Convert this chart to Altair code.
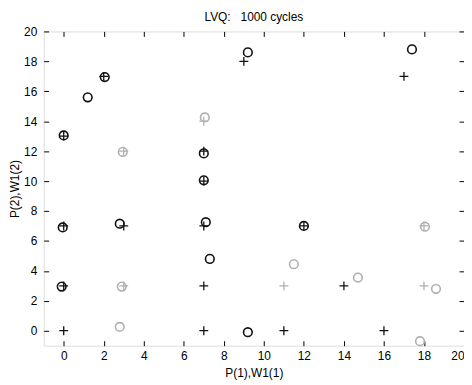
import altair as alt
import pandas as pd

# Training points P (plus markers)
p_x = [0, 7, 11, 16, 0, 7, 14, 0, 3, 7, 12, 0, 7, 7, 2, 9, 17]
p_y = [0, 0, 0, 0, 3, 3, 3, 7, 7, 7, 7, 13, 10, 12, 17, 18, 17]
# faintly printed P points
pf_x = [3, 11, 18, 18, 3, 7]
pf_y = [3, 3, 3, 7, 12, 14]

# Weight vectors W1 (circle markers)
w_x = [-0.1, -0.05, 0.0, 1.2, 2.05, 2.8, 7.1, 7.3, 7.0, 7.0, 9.2, 17.4, 12.0, 9.2]
w_y = [2.95, 6.9, 13.05, 15.6, 16.95, 7.15, 7.25, 4.8, 10.05, 11.85, 18.6, 18.8, 7.0, -0.1]
# faintly printed W1 points
wf_x = [2.9, 2.8, 2.95, 7.05, 11.5, 14.7, 18.05, 18.6, 17.8]
wf_y = [2.95, 0.25, 11.95, 14.25, 4.45, 3.55, 6.95, 2.8, -0.7]

x_ticks = list(range(0, 21, 2))
y_ticks = list(range(0, 21, 2))

rows = []
for xs, ys, k in [(p_x, p_y, "P"), (pf_x, pf_y, "Pf"), (w_x, w_y, "W"), (wf_x, wf_y, "Wf")]:
    for a, b in zip(xs, ys):
        rows.append({"x": a, "y": b, "kind": k})
df = pd.DataFrame(rows)

FONT = "Liberation Sans"
xs_ = alt.Scale(domain=[-1, 20], nice=False, zero=False)
ys_ = alt.Scale(domain=[-1, 20], nice=False, zero=False)

ax_common = dict(domain=False, grid=False, tickColor="black", tickSize=5, tickWidth=1,
                 offset=-5, labelFont=FONT, labelFontSize=12, labelColor="black",
                 titleFont=FONT, titleFontSize=12, titleFontWeight="normal", titleColor="black")

x_bottom = alt.X("x:Q", scale=xs_, axis=alt.Axis(orient="bottom", values=x_ticks, title="P(1),W1(1)",
                                                  labelPadding=5, titlePadding=6, **ax_common))
y_left = alt.Y("y:Q", scale=ys_, axis=alt.Axis(orient="left", values=y_ticks, title="P(2),W1(2)",
                                                labelPadding=7, titlePadding=2, **ax_common))

color_scale = alt.Scale(domain=["P", "Pf", "W", "Wf"], range=["#111111", "#b0b0b0", "#111111", "#b0b0b0"])

plus_path = "M-1,0L1,0M0,-1L0,1"

plus = alt.Chart(df).transform_filter(
    alt.FieldOneOfPredicate(field="kind", oneOf=["P", "Pf"])
).mark_point(shape=plus_path, size=80, strokeWidth=1.3, filled=False, opacity=1).encode(
    x=x_bottom, y=y_left,
    color=alt.Color("kind:N", scale=color_scale, legend=None),
)

circ = alt.Chart(df).transform_filter(
    alt.FieldOneOfPredicate(field="kind", oneOf=["W", "Wf"])
).mark_point(shape="circle", size=76, strokeWidth=1.6, filled=False, opacity=1).encode(
    x=alt.X("x:Q", scale=xs_, axis=None), y=alt.Y("y:Q", scale=ys_, axis=None),
    color=alt.Color("kind:N", scale=color_scale, legend=None),
)

frame_axes = alt.Chart(df).mark_point(opacity=0).encode(
    x=alt.X("x:Q", scale=xs_, axis=alt.Axis(orient="top", values=x_ticks, labels=False, title=None,
                                            domain=False, grid=False, tickColor="black", tickSize=5, offset=-5)),
    y=alt.Y("y:Q", scale=ys_, axis=alt.Axis(orient="right", values=y_ticks, labels=False, title=None,
                                            domain=False, grid=False, tickColor="black", tickSize=5, offset=-5)),
)

chart = alt.layer(plus, circ, frame_axes).resolve_axis(
    x="independent", y="independent"
).properties(
    width=424, height=317,
    title=alt.TitleParams("LVQ:\u00a0\u00a0 1000 cycles", font=FONT, fontSize=12, fontWeight="normal",
                          color="black", anchor="middle", offset=2),
    autosize=alt.AutoSizeParams(type="none"),
    padding={"left": 36, "top": 22, "right": 0, "bottom": 36},
).configure_view(stroke="black", strokeWidth=1.3).configure(background="white")

chart.save("out.html", embed_options={"renderer": "svg", "actions": False})
